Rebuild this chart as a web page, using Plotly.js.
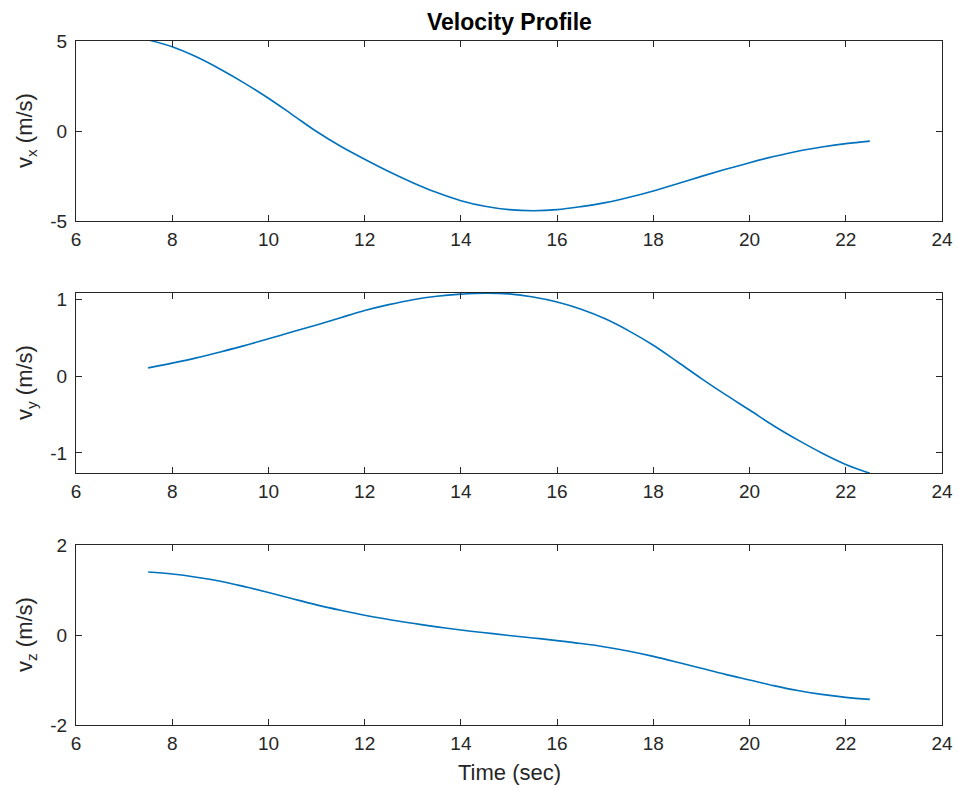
<!DOCTYPE html>
<html>
<head>
<meta charset="utf-8">
<script src="https://cdn.plot.ly/plotly-3.0.1.min.js"></script>
<style>html,body{margin:0;padding:0;background:#fff;}#plot{width:959px;height:787px;}</style>
</head>
<body>
<div id="plot"></div>
<script>
// Data
const time = [7.5, 8, 8.5, 9, 9.5, 10, 10.5, 11, 11.5, 12, 12.5, 13, 13.5, 14, 14.5, 15, 15.5, 16, 16.5, 17, 17.5, 18, 18.5, 19, 19.5, 20, 20.5, 21, 21.5, 22, 22.5];
const vx   = [5.06, 4.68, 4.12, 3.43, 2.66, 1.82, 0.9, -0.03, -0.85, -1.57, -2.25, -2.87, -3.42, -3.87, -4.18, -4.37, -4.43, -4.37, -4.2, -3.98, -3.68, -3.33, -2.93, -2.52, -2.13, -1.76, -1.42, -1.12, -0.89, -0.7, -0.56];
const vy   = [0.11, 0.172, 0.24, 0.318, 0.40, 0.49, 0.58, 0.67, 0.765, 0.858, 0.935, 1.0, 1.045, 1.072, 1.085, 1.075, 1.035, 0.97, 0.875, 0.75, 0.59, 0.405, 0.19, -0.03, -0.24, -0.44, -0.645, -0.83, -1.0, -1.15, -1.265];
const vz   = [1.40, 1.355, 1.285, 1.195, 1.075, 0.945, 0.805, 0.67, 0.55, 0.44, 0.345, 0.26, 0.18, 0.11, 0.05, -0.01, -0.065, -0.125, -0.19, -0.265, -0.36, -0.475, -0.605, -0.74, -0.875, -1.0, -1.125, -1.235, -1.32, -1.385, -1.43];

const xTicks = [6, 8, 10, 12, 14, 16, 18, 20, 22, 24];
const vxTicks = [-5, 0, 5];
const vyTicks = [-1, 0, 1];
const vzTicks = [-2, 0, 2];

const lineColor = '#0072BD';
const axisColor = '#262626';
const fontFam = 'Liberation Sans, Arial, Helvetica, sans-serif';

function trace(y, xa, ya) {
  return {x: time, y: y, xaxis: xa, yaxis: ya, type: 'scatter', mode: 'lines',
          line: {color: lineColor, width: 1.6, shape: 'spline', smoothing: 1},
          hoverinfo: 'skip', showlegend: false};
}

function xAxis(anchor) {
  return {anchor: anchor, domain: [0, 1], range: [6, 24], tickvals: xTicks,
          ticktext: xTicks.map(String),
          ticks: 'inside', ticklen: 6, tickwidth: 1, tickcolor: axisColor,
          showline: true, linecolor: axisColor, linewidth: 1, mirror: 'ticks',
          showgrid: false, zeroline: false, ticklabelstandoff: 1,
          tickfont: {family: fontFam, size: 19, color: axisColor}};
}
function yAxis(anchor, dom, range, tv) {
  return {anchor: anchor, domain: dom, range: range, tickvals: tv,
          ticktext: tv.map(String),
          ticks: 'inside', ticklen: 6, tickwidth: 1, tickcolor: axisColor,
          showline: true, linecolor: axisColor, linewidth: 1, mirror: 'ticks',
          showgrid: false, zeroline: false, ticklabelstandoff: 4,
          tickfont: {family: fontFam, size: 19, color: axisColor}};
}

const H = 787;
const data = [trace(vx, 'x', 'y'), trace(vy, 'x2', 'y2'), trace(vz, 'x3', 'y3')];

const layout = {
  width: 959, height: 787,
  margin: {l: 76, r: 17, t: 0, b: 0},
  paper_bgcolor: '#ffffff', plot_bgcolor: '#ffffff',
  xaxis: xAxis('y'),
  xaxis2: xAxis('y2'),
  xaxis3: xAxis('y3'),
  yaxis: yAxis('x', [1 - 221/H, 1 - 41/H], [-5, 5], vxTicks),
  yaxis2: yAxis('x2', [1 - 473/H, 1 - 293/H], [-1.262, 1.087], vyTicks),
  yaxis3: yAxis('x3', [1 - 725/H, 1 - 545/H], [-2, 2], vzTicks),
  annotations: [
    {text: '<b>Velocity Profile</b>', xref: 'paper', yref: 'paper', x: 0.5, y: 1 - 22/H,
     xanchor: 'center', yanchor: 'middle', showarrow: false,
     font: {family: fontFam, size: 23, color: '#000'}},
    {text: 'Time (sec)', xref: 'paper', yref: 'paper', x: 0.5, y: 1 - 772/H,
     xanchor: 'center', yanchor: 'middle', showarrow: false,
     font: {family: fontFam, size: 22, color: axisColor}},
    {text: 'v<sub>x</sub> (m/s)', xref: 'paper', yref: 'paper', x: (26 - 76)/866, y: 1 - 131/H,
     xanchor: 'center', yanchor: 'middle', textangle: -90, showarrow: false,
     font: {family: fontFam, size: 22, color: axisColor}},
    {text: 'v<sub>y</sub> (m/s)', xref: 'paper', yref: 'paper', x: (26 - 76)/866, y: 1 - 383/H,
     xanchor: 'center', yanchor: 'middle', textangle: -90, showarrow: false,
     font: {family: fontFam, size: 22, color: axisColor}},
    {text: 'v<sub>z</sub> (m/s)', xref: 'paper', yref: 'paper', x: (26 - 76)/866, y: 1 - 635/H,
     xanchor: 'center', yanchor: 'middle', textangle: -90, showarrow: false,
     font: {family: fontFam, size: 22, color: axisColor}}
  ]
};

Plotly.newPlot('plot', data, layout, {staticPlot: true, displayModeBar: false});
</script>
</body>
</html>
